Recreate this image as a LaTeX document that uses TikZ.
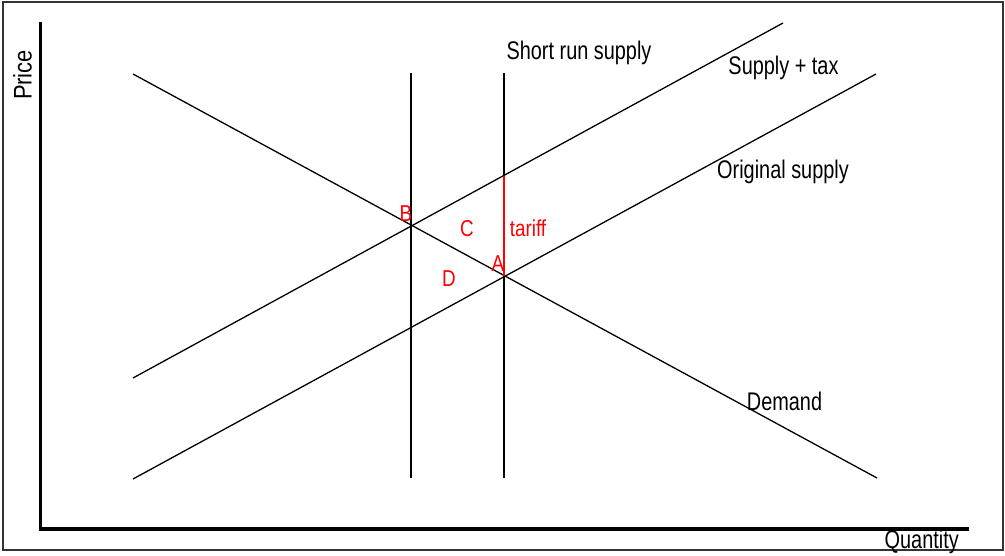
\documentclass[tikz,border=0pt]{standalone}
\usepackage{fontspec}
\setmainfont{Liberation Sans}
\newcommand\nar[1]{\scalebox{0.78}[1]{#1}}
\newcommand\nrd[1]{\scalebox{0.82}[1]{#1}}
\begin{document}
\begin{tikzpicture}[x=1pt,y=-1pt,
  lbl/.style={font=\fontsize{25.5}{26}\selectfont, inner sep=0pt, anchor=base},
  rlbl/.style={font=\fontsize{23}{24}\selectfont, inner sep=0pt, anchor=center, text=red},
  ln/.style={line width=1.3pt, black},
  axis/.style={line width=3.5pt, black}]
\useasboundingbox (0,0) rectangle (1005,555);
% frame
\draw[line width=1.4pt, black!80] (3,2) rectangle (1003,550);
% axes
\coordinate (ytop) at (40.5,22);
\coordinate (orig) at (40.5,529);
\coordinate (xend) at (969,529);
\draw[axis] (ytop) -- (orig) -- (xend);
% end points
\coordinate (d1) at (133,74);
\coordinate (d2) at (877,478);
\coordinate (t1) at (133,378);
\coordinate (t2) at (783,23);
\coordinate (s1) at (133,479);
\coordinate (s2) at (876,74);
\coordinate (v1a) at (411,73);
\coordinate (v1b) at (411,478);
\coordinate (v2a) at (504,73);
\coordinate (v2b) at (504,478);
\coordinate (ttop) at (504,175.5);
\coordinate (A) at (504,276);
% lines
\draw[ln] (d1) -- (d2);
\draw[ln] (t1) -- (t2);
\draw[ln] (s1) -- (s2);
\draw[ln] (v1a) -- (v1b);
\draw[ln] (v2a) -- (v2b);
\draw[line width=1.4pt, red] (ttop) -- (A);
% labels
\node[lbl] (lsr) at (579,59.3) {\nar{Short run supply}};
\node[lbl] (ltax) at (783.5,74) {\nar{Supply + tax}};
\node[lbl] (lorig) at (783,178) {\nar{Original supply}};
\node[lbl] (ldem) at (784.5,410) {\nar{Demand}};
\node[lbl] (lq) at (921.7,548.5) {\nar{Quantity}};
\node[lbl, rotate=90, anchor=base] (lp) at (31.5,75) {\scalebox{0.86}[1]{Price}};
% red labels
\node[rlbl] (lB) at (406,214) {\nrd{B}};
\node[rlbl] (lC) at (467,229) {\nrd{C}};
\node[rlbl] (ltar) at (528,228.5) {\nrd{tariff}};
\node[rlbl] (lA) at (498,264) {\nrd{A}};
\node[rlbl] (lD) at (449,279) {\nrd{D}};
\end{tikzpicture}
\end{document}
